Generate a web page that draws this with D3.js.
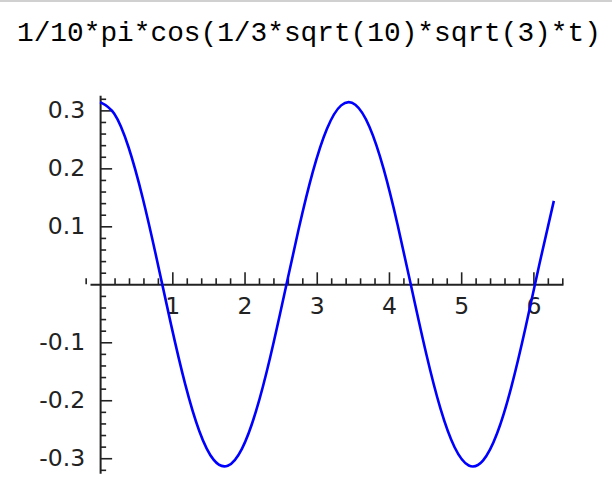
<!DOCTYPE html>
<html>
<head>
<meta charset="utf-8">
<script src="https://cdn.jsdelivr.net/npm/d3@7"></script>
<style>
  body { margin: 0; background: #fff; }
  svg { display: block; }
</style>
</head>
<body>
<svg id="chart" width="612" height="490"></svg>
<script>
      var svg = d3.select("#chart");

      // data: t and f(t), evenly spaced along 0..2pi
      var title  = "1/10*pi*cos(1/3*sqrt(10)*sqrt(3)*t)";
      var tVals  = [0, 0.1963, 0.3927, 0.5890, 0.7854, 0.9817, 1.1781, 1.3744, 1.5708, 1.7671, 1.9635,
                    2.1598, 2.3562, 2.5525, 2.7489, 2.9452, 3.1416, 3.3379, 3.5343, 3.7306, 3.9270, 4.1233,
                    4.3197, 4.5160, 4.7124, 4.9087, 5.1051, 5.3014, 5.4978, 5.6941, 5.8905, 6.0868, 6.2832];
      var yVals  = [0.3142, 0.2942, 0.2368, 0.1493, 0.0429, -0.0691, -0.1722, -0.2534, -0.3025, -0.3130, -0.2838,
                    -0.2185, -0.1254, -0.0164, 0.0948, 0.1938, 0.2683, 0.3086, 0.3097, 0.2714, 0.1986, 0.1006,
                    -0.0103, -0.1198, -0.2141, -0.2811, -0.3125, -0.3041, -0.2570, -0.1773, -0.0750, 0.0368, 0.1439];
      var xTicks = [1, 2, 3, 4, 5, 6];
      var yTicks = [-0.3, -0.2, -0.1, 0.1, 0.2, 0.3];
      var xMinor = [-0.2, 0.2, 0.4, 0.6, 0.8, 1.2, 1.4, 1.6, 1.8, 2.2, 2.4, 2.6, 2.8, 3.2, 3.4, 3.6, 3.8,
                    4.2, 4.4, 4.6, 4.8, 5.2, 5.4, 5.6, 5.8, 6.2, 6.4];
      var yMinor = [-0.32, -0.28, -0.26, -0.24, -0.22, -0.18, -0.16, -0.14, -0.12, -0.08, -0.06, -0.04, -0.02,
                    0.02, 0.04, 0.06, 0.08, 0.12, 0.14, 0.16, 0.18, 0.22, 0.24, 0.26, 0.28, 0.32];

      var axisColor = "#222";

      // top border strip
      svg.append("rect").attr("x", 0).attr("y", 0).attr("width", 612).attr("height", 2)
         .style("fill", "#d0d0d0");

      // title
      svg.append("text").attr("x", 17).attr("y", 41)
         .text(title)
         .style("font-family", "'Liberation Mono', 'Courier New', monospace")
         .style("font-size", "27.8px")
         .style("fill", "#000");

      var xScale = d3.scaleLinear().domain([-0.14, 6.41]).range([90, 563]);
      var yScale = d3.scaleLinear().domain([-0.326, 0.326]).range([473.3, 95.3]);
      var x0 = xScale(0), y0 = yScale(0);

      function styleAxis(g) {
        g.select(".domain").style("stroke", axisColor).style("stroke-width", 2);
        g.selectAll(".tick line").style("stroke", axisColor).style("stroke-width", 1.6);
        g.selectAll(".tick text")
         .style("font-family", "'DejaVu Sans', sans-serif")
         .style("font-size", "23.5px")
         .style("fill", "#222");
      }

      // x axis through y = 0, ticks pointing up
      var gx = svg.append("g").attr("transform", "translate(0," + y0 + ")");
      gx.call(d3.axisBottom(xScale).tickValues(xMinor).tickSizeInner(-6).tickSizeOuter(0).tickFormat(""))
        .call(styleAxis);
      var gx2 = svg.append("g").attr("transform", "translate(0," + y0 + ")");
      gx2.call(d3.axisBottom(xScale).tickValues(xTicks).tickSizeInner(-12).tickSizeOuter(0)
              .tickPadding(13).tickFormat(d3.format("d")))
         .call(styleAxis);
      gx2.select(".domain").remove();

      // y axis through x = 0, ticks pointing right
      var gy = svg.append("g").attr("transform", "translate(" + x0 + ",0)");
      gy.call(d3.axisLeft(yScale).tickValues(yMinor).tickSizeInner(-6).tickSizeOuter(0).tickFormat(""))
        .call(styleAxis);
      var gy2 = svg.append("g").attr("transform", "translate(" + x0 + ",0)");
      gy2.call(d3.axisLeft(yScale).tickValues(yTicks).tickSizeInner(-12).tickSizeOuter(0)
              .tickPadding(15).tickFormat(d3.format(".1f")))
         .call(styleAxis);
      gy2.select(".domain").remove();
      gy2.selectAll(".tick text").text(function(d) { return d3.format(".1f")(d).replace("\u2212", "-"); });

      // the curve
      var pts = tVals.map(function(t, i) { return [t, yVals[i]]; });
      var line = d3.line()
        .x(function(d) { return xScale(d[0]); })
        .y(function(d) { return yScale(d[1]); })
        .curve(d3.curveNatural);
      svg.append("path").datum(pts).attr("d", line)
         .style("fill", "none").style("stroke", "#0000ff").style("stroke-width", 2.6)
         .style("stroke-linejoin", "round");
</script>
</body>
</html>
